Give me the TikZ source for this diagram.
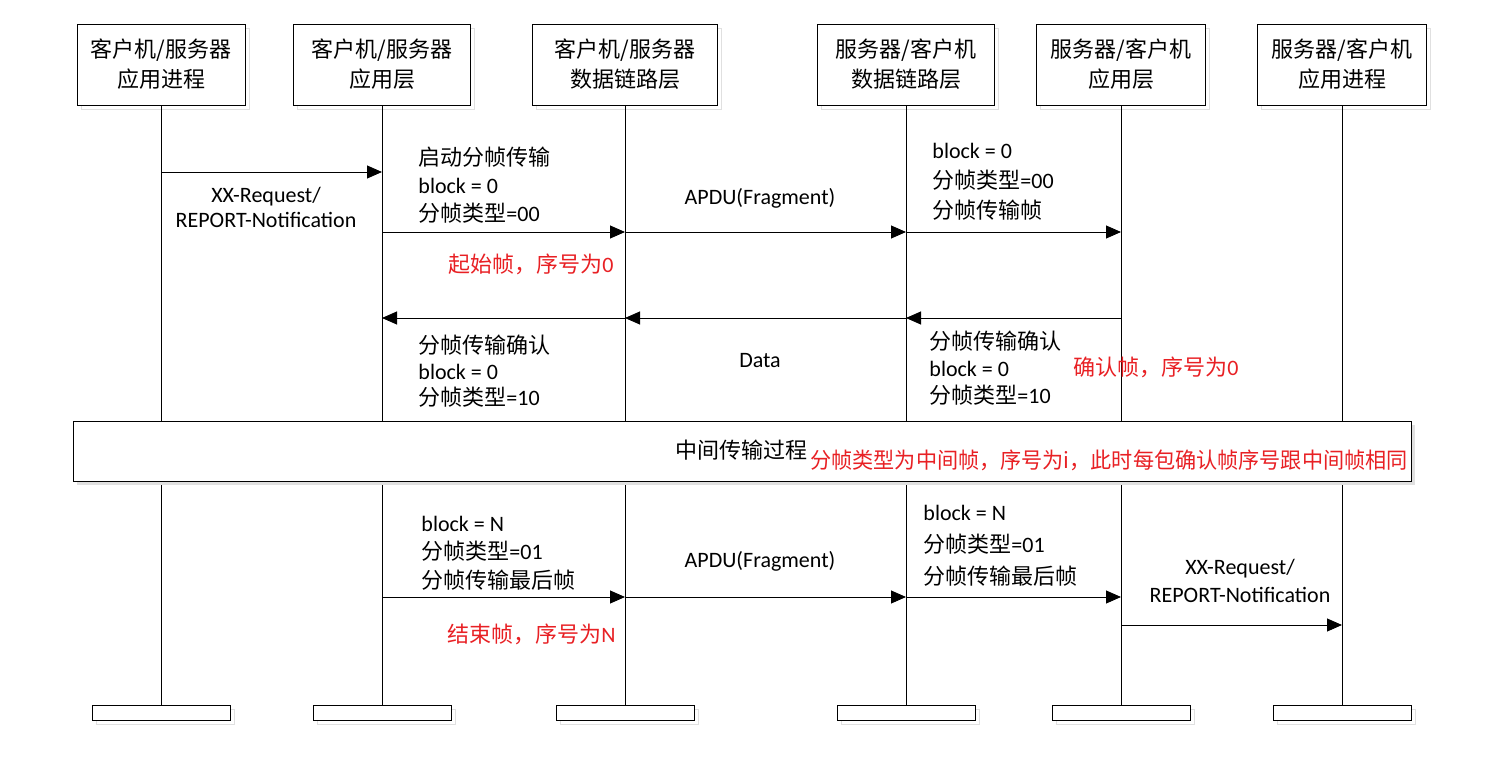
\documentclass[tikz,border=0pt]{standalone}
\usepackage{fontspec}
\setmainfont{Carlito}
\newfontfamily\cjk{Noto Sans CJK SC}
\usepackage{tikz}
\usetikzlibrary{arrows.meta,positioning,shadows}
\definecolor{NoteRed}{RGB}{232,32,36}
\newcommand{\cn}[1]{{\cjk #1}}

\begin{document}
\begin{tikzpicture}[
  x=1pt,y=-1pt,on grid,
  line width=0.9pt,
  font=\fontsize{22}{28}\selectfont,
  lifehead/.style={draw,fill=white,minimum height=81pt,inner sep=0pt,
    align=center,font=\fontsize{22}{30}\selectfont,
    general shadow={draw=black!12,shadow xshift=4pt,shadow yshift=-4pt}},
  lifefoot/.style={draw,fill=white,minimum width=138pt,minimum height=15pt,
    inner sep=0pt,
    general shadow={draw=black!12,shadow xshift=4pt,shadow yshift=-4pt}},
  stage/.style={draw,fill=white,minimum width=1338pt,minimum height=60pt,
    general shadow={fill=black!12,shadow xshift=4pt,shadow yshift=-4pt}},
  msg/.style={-{Triangle[length=15pt,width=13pt]}},
  msgtext/.style={align=left,anchor=west,inner sep=0pt},
  msgmid/.style={align=center,inner sep=0pt},
  rednote/.style={text=NoteRed,anchor=west,inner sep=0pt}
  ]
  \useasboundingbox (0,0) rectangle (1499,765);

  % lifeline heads
  \node[lifehead,minimum width=168pt] (h1) at (161,64.5)  {\cn{客户机/服务器}\\\cn{应用进程}};
  \node[lifehead,minimum width=177pt] (h2) [right=221pt of h1] {\cn{客户机/服务器}\\\cn{应用层}};
  \node[lifehead,minimum width=185pt] (h3) [right=243pt of h2] {\cn{客户机/服务器}\\\cn{数据链路层}};
  \node[lifehead,minimum width=177pt] (h4) [right=281pt of h3] {\cn{服务器/客户机}\\\cn{数据链路层}};
  \node[lifehead,minimum width=169pt] (h5) [right=215pt of h4] {\cn{服务器/客户机}\\\cn{应用层}};
  \node[lifehead,minimum width=169pt] (h6) [right=221pt of h5] {\cn{服务器/客户机}\\\cn{应用进程}};

  % lifeline feet
  \foreach \n in {1,...,6}
    \node[lifefoot] (f\n) [below=648pt of h\n] {};

  \foreach \n in {1,...,6}
    \draw (h\n) -- (f\n);

  % message rows
  \foreach \r/\y in {a/172,b/232,c/318,d/597,e/625}
    \foreach \n in {1,...,6}
      \coordinate (\r\n) at (h\n |- 0,\y);

  \node[stage] (mid) at (742,451) {};
  \node[anchor=east,inner sep=0pt] (midTitle) at (808,450) {\cn{中间传输过程}};
  \node[rednote] (midNote) at (810,460)
    {\scalebox{0.96}[1]{\cn{分帧类型为中间帧，序号为i，此时每包确认帧序号跟中间帧相同}}};

  \path
    (a1) edge [msg] (a2)
    (b2) edge [msg] (b3)
    (b3) edge [msg] (b4)
    (b4) edge [msg] (b5)
    (c5) edge [msg] (c4)
    (c4) edge [msg] (c3)
    (c3) edge [msg] (c2)
    (d2) edge [msg] (d3)
    (d3) edge [msg] (d4)
    (d4) edge [msg] (d5)
    (e5) edge [msg] (e6)
    ;

  % labels
  \node[msgmid,font=\fontsize{22}{25}\selectfont] (req1) at (266,207.5) {XX-Request/\\REPORT-Notification};
  \node[msgtext] (startTx) at (418,185) {\cn{启动分帧传输}\\block = 0\\\cn{分帧类型}=00};
  \node[msgmid] (apdu1) at (760,198) {APDU(Fragment)};
  \node[msgtext,font=\fontsize{22}{30}\selectfont] (startRx) at (932,182) {block = 0\\\cn{分帧类型}=00\\\cn{分帧传输帧}};
  \node[rednote] (startNote) at (448,264) {\cn{起始帧，序号为}0};

  \node[msgtext,font=\fontsize{22}{26}\selectfont] (ackTx) at (418,371) {\cn{分帧传输确认}\\block = 0\\\cn{分帧类型}=10};
  \node[msgmid] (data) at (760,361) {Data};
  \node[msgtext,font=\fontsize{22}{27}\selectfont] (ackRx) at (929,368) {\cn{分帧传输确认}\\block = 0\\\cn{分帧类型}=10};
  \node[rednote] (ackNote) at (1073,367) {\cn{确认帧，序号为}0};

  \node[msgtext,font=\fontsize{22}{28.5}\selectfont] (endTx) at (421,553) {block = N\\\cn{分帧类型}=01\\\cn{分帧传输最后帧}};
  \node[msgmid] (apdu2) at (760,561) {APDU(Fragment)};
  \node[msgtext,font=\fontsize{22}{32}\selectfont] (endRx) at (923,546) {block = N\\\cn{分帧类型}=01\\\cn{分帧传输最后帧}};
  \node[rednote] (endNote) at (447,634) {\cn{结束帧，序号为}N};
  \node[msgmid] (req2) at (1240,581) {XX-Request/\\REPORT-Notification};
\end{tikzpicture}
\end{document}
